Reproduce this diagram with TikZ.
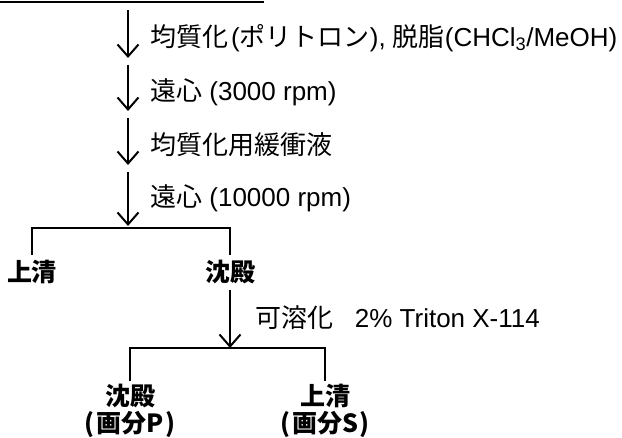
\documentclass[tikz,border=0pt]{standalone}
\usepackage{fontspec}
\setmainfont{Liberation Sans}
\newfontfamily\cjk{Noto Sans CJK JP}
\usetikzlibrary{arrows.meta}
\begin{document}
\begin{tikzpicture}[x=1pt,y=-1pt,
  flow/.style={line width=2pt,-{Straight Barb[length=12pt,width=21pt,line width=2pt]}},
  bracket/.style={line width=2.5pt},
  note/.style={anchor=west,inner sep=0pt,font=\fontsize{26}{28}\selectfont},
  lbl/.style={inner sep=0pt,align=center,font=\fontsize{25}{27}\selectfont\bfseries\cjk}]
\useasboundingbox (0,0) rectangle (622,438);
\coordinate (u0) at (0,2); \coordinate (u1) at (264,2);
\draw[line width=1.6pt] (u0) -- (u1);
\coordinate (a0) at (128,10); \coordinate (a1) at (128,58);
\coordinate (b0) at (128,65); \coordinate (b1) at (128,111);
\coordinate (c0) at (128,118); \coordinate (c1) at (128,165);
\coordinate (d0) at (128,172); \coordinate (d1) at (128,226);
\draw[flow] (a0) -- (a1);
\draw[flow] (b0) -- (b1);
\draw[flow] (c0) -- (c1);
\draw[flow] (d0) -- (d1);
\node[note] (t1) at (150,38) {{\cjk 均質化}\kern3pt({\cjk ポリトロン}),\ {\cjk 脱脂}(CHCl\textsubscript{3}/MeOH)};
\node[note] (t2) at (150,92) {{\cjk 遠心} (3000 rpm)};
\node[note] (t3) at (150,145) {{\cjk 均質化用緩衝液}};
\node[note] (t4) at (150,198) {{\cjk 遠心} (10000 rpm)};
\coordinate (j1) at (128,228);
\node[lbl] (s1) at (32,272) {上清};
\node[lbl] (p1) at (230,272) {沈殿};
\draw[bracket] ([yshift=5pt]s1.north) |- (j1) -| ([yshift=5pt]p1.north);
\coordinate (j2) at (230,348);
\draw[flow] ([yshift=-6pt]p1.south) -- (j2);
\node[note] (t5) at (255,318) {{\cjk 可溶化}\ \ \ 2\% Triton X-114};
\node[lbl] (q1) at (130,411) {沈殿\\(\kern2pt画分P\kern2pt)};
\node[lbl] (q2) at (325,411) {上清\\(\kern2pt画分S\kern2pt)};
\draw[bracket] ([yshift=3pt]q1.north) |- (j2) -| ([yshift=3pt]q2.north);
\end{tikzpicture}
\end{document}
